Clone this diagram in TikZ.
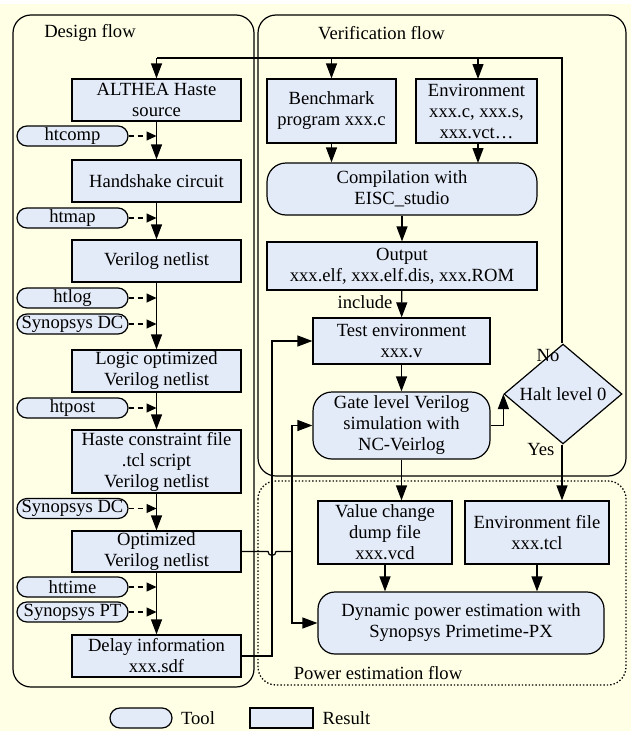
\documentclass[tikz,border=0pt]{standalone}
\usepackage{fontspec}
\setmainfont{Liberation Serif}
\usetikzlibrary{arrows.meta,shapes.geometric}
\definecolor{bgcol}{RGB}{255,255,230}
\definecolor{boxfill}{RGB}{228,235,248}
\begin{document}
\begin{tikzpicture}[x=1pt,y=-1pt,
  font=\fontsize{18.6}{21}\selectfont,
  line width=1.2pt,
  sz/.style 2 args={minimum width=#1pt,minimum height=#2pt},
  result/.style={draw,fill=boxfill,inner sep=1pt,align=center},
  toolbox/.style={draw,fill=boxfill,rounded corners=10pt,inner sep=0pt,minimum width=111pt,minimum height=20pt},
  procbox/.style={draw,fill=boxfill,rounded corners=19pt,inner sep=1pt,align=center},
  decision/.style={draw,fill=boxfill,diamond,inner sep=0pt,minimum width=118pt,minimum height=62pt},
  group/.style={draw,rounded corners=18pt,line width=1.2pt},
  arr/.style={-{Triangle[length=15pt,width=11pt]}},
  tarr/.style={dash pattern=on 5pt off 4pt,-{Triangle[length=10pt,width=9pt]}},
  lbl/.style={inner sep=0pt}
]
\useasboundingbox (0,0) rectangle (631,731);
\fill[white] (0,0) rectangle (631,731);
\fill[bgcol] (0,4) rectangle (631,731);

% groups
\draw[group] (13,15) rectangle (254,687);
\draw[group] (258,15) rectangle (626,476);
\draw[group,line width=1.3pt,dash pattern=on 1.4pt off 2pt] (258,481) rectangle (626,685);
\node[lbl] (gdesign) at (90,33) {Design flow};
\node[lbl] (gverif) at (381.5,33) {Verification flow};
\node[lbl] (gpower) at (378,673) {Power estimation flow};

% design flow results
\node[result,sz={169}{42}] (alt) at (156.5,100) {ALTHEA Haste\\source};
\node[result,sz={169}{42}] (hs) at (156.5,181) {Handshake circuit};
\node[result,sz={169}{42}] (vn) at (156.5,261) {Verilog netlist};
\node[result,sz={169}{42}] (lo) at (156.5,371) {Logic optimized\\Verilog netlist};
\node[result,sz={169}{63}] (hc) at (156.5,461.5) {Haste constraint file\\.tcl script\\Verilog netlist};
\node[result,sz={169}{41}] (on) at (156.5,551.5) {Optimized\\Verilog netlist};
\node[result,sz={169}{42}] (di) at (156.5,656) {Delay information\\xxx.sdf};

% tools
\node[toolbox] (t1) at (72.5,136) {htcomp};
\node[toolbox] (t2) at (72.5,218) {htmap};
\node[toolbox] (t3) at (72.5,298) {htlog};
\node[toolbox] (t4) at (72.5,324) {Synopsys DC};
\node[toolbox] (t5) at (72.5,408) {htpost};
\node[toolbox] (t6) at (72.5,508.5) {Synopsys DC};
\node[toolbox] (t7) at (72.5,587) {httime};
\node[toolbox] (t8) at (72.5,612) {Synopsys PT};

% design flow arrows
\draw[arr] (alt) -- (hs);
\draw[arr] (hs) -- (vn);
\draw[arr] (vn) -- (lo);
\draw[arr] (lo) -- (hc);
\draw[arr] (hc) -- (on);
\draw[arr] (on) -- (di);
\foreach \t in {t1,t2,t3,t4,t5,t6,t7,t8}
  \draw[tarr] (\t.east) -- (\t.east -| alt.south);

% verification flow
\node[result,sz={129}{64}] (bm) at (331.5,111) {Benchmark\\program xxx.c};
\node[result,sz={121}{64}] (env) at (476.5,111) {Environment\\xxx.c, xxx.s,\\xxx.vct…};
\node[procbox,sz={270}{52}] (comp) at (402,189) {Compilation with\\EISC\_studio};
\node[result,sz={270}{48}] (out) at (402,266) {Output\\xxx.elf, xxx.elf.dis, xxx.ROM};
\node[result,sz={177}{46}] (te) at (401.5,341) {Test environment\\xxx.v};
\node[procbox,sz={177}{67}] (gl) at (401.5,425.5) {Gate level Verilog\\simulation with\\NC-Veirlog};
\node[decision] (halt) at (563,394) {Halt level 0};

% power estimation
\node[result,sz={134}{63}] (vcd) at (385,532.5) {Value change\\dump file\\xxx.vcd};
\node[result,sz={144}{63}] (ef) at (537,532.5) {Environment file\\xxx.tcl};
\node[procbox,sz={286}{62},rounded corners=17pt] (dp) at (461,623) {Dynamic power estimation with\\Synopsys Primetime-PX};

% feedback loop
\coordinate (fbR) at (562,58);
\draw (halt.north -| fbR) -- (fbR) -- (fbR -| alt.north);
\draw[arr] (fbR -| alt.north) -- (alt.north);
\draw[arr] (fbR -| bm.north) -- (bm.north);
\draw[arr] (fbR -| 478,0) -- (478,79);

% verification arrows
\draw[arr] (bm.south) -- (bm.south |- comp.north);
\draw[arr] (478,143) -- (478,163);
\draw[arr] (comp) -- (out);
\draw[arr] (out) -- (te);
\node[lbl,anchor=base east] (inc) at (393,308) {include};
\draw[arr] (te) -- (gl);
\draw[arr] (gl.east) -| (halt.west);
\node[lbl,anchor=base east] (no) at (560,361) {No};
\draw[arr] (halt.south -| fbR) -- (fbR |- ef.north);
\node[lbl,anchor=base east] (yes) at (555,455) {Yes};
\draw[arr] (gl.south) -- (gl.south |- vcd.north);
\draw[arr] (vcd) -- (vcd |- dp.north);
\draw[arr] (ef) -- (ef |- dp.north);

% cross connectors
\coordinate (jA) at (292,551.5);
\coordinate (jB) at (272,656);
\draw (on.east) -- (268,551.5) arc[start angle=180,end angle=0,radius=4] -- (jA);
\draw[arr] (jA) |- (gl.west);
\draw[arr] (jA) |- (dp.west);
\draw[arr] (di.east) -- (jB) |- (te.west);

% legend
\node[toolbox,minimum width=62pt] (lt) at (141,718) {};
\node[lbl] (ltt) at (198,718) {Tool};
\node[result,sz={63}{20},inner sep=0pt] (lr) at (281.5,718) {};
\node[lbl] (lrt) at (346.5,718) {Result};
\end{tikzpicture}
\end{document}
